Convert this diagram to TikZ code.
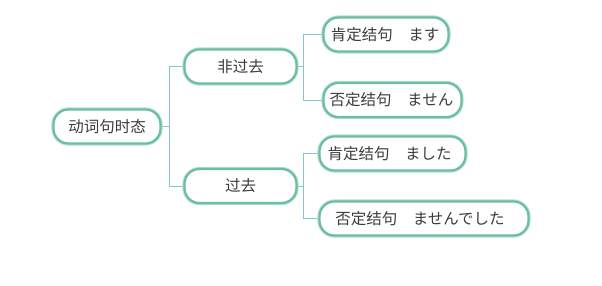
\documentclass[tikz,border=0pt]{standalone}
\usepackage{fontspec}
\newfontfamily\cjk{Noto Sans CJK SC}
\definecolor{boxgreen}{HTML}{6CBF9E}
\definecolor{boxhalo}{HTML}{B5E0CD}
\definecolor{linkblue}{HTML}{86C4D2}
\definecolor{txt}{HTML}{3C3C3C}
\tikzset{
  topic/.style={draw=boxgreen, line width=2.2pt, fill=white, rounded corners=15pt,
    minimum height=34pt, inner sep=0pt, text=txt,
    font=\cjk\fontsize{15.5}{17}\selectfont,
    preaction={draw=boxhalo, line width=4.2pt}},
  link/.style={draw=linkblue, line width=1pt}
}
\begin{document}
\begin{tikzpicture}[x=1pt,y=1pt]
\useasboundingbox (0,0) rectangle (602,285);
\coordinate (j0) at (169,158.5);
\coordinate (ja) at (303,218.5);
\coordinate (jb) at (303,99);
\draw[link] (j0) |- (240,218.5);
\draw[link] (j0) |- (240,99);
\draw[link] (107,158.5) -- (j0);
\draw[link] (ja) |- (386,250.5);
\draw[link] (ja) |- (392,185);
\draw[link] (240,218.5) -- (ja);
\draw[link] (jb) |- (392,131.5);
\draw[link] (jb) |- (424,66.5);
\draw[link] (240,99) -- (jb);
\node[topic, minimum width=107pt] (root) at (107,158.5) {动词句时态};
\node[topic, minimum width=112pt] (a) at (240.5,218.5) {非过去};
\node[topic, minimum width=112pt] (b) at (240.5,99) {过去};
\node[topic, minimum width=125pt] (a1) at (386,250.5) {\hspace{-2pt}肯定结句　ます};
\node[topic, minimum width=138pt] (a2) at (392.5,185) {\hspace{-2pt}否定结句　ません};
\node[topic, minimum width=146pt] (b1) at (392.5,131.5) {\hspace{-6pt}肯定结句　ました};
\node[topic, minimum width=209pt] (b2) at (424,66.5) {\hspace{-8pt}否定结句　ませんでした};
\end{tikzpicture}
\end{document}
